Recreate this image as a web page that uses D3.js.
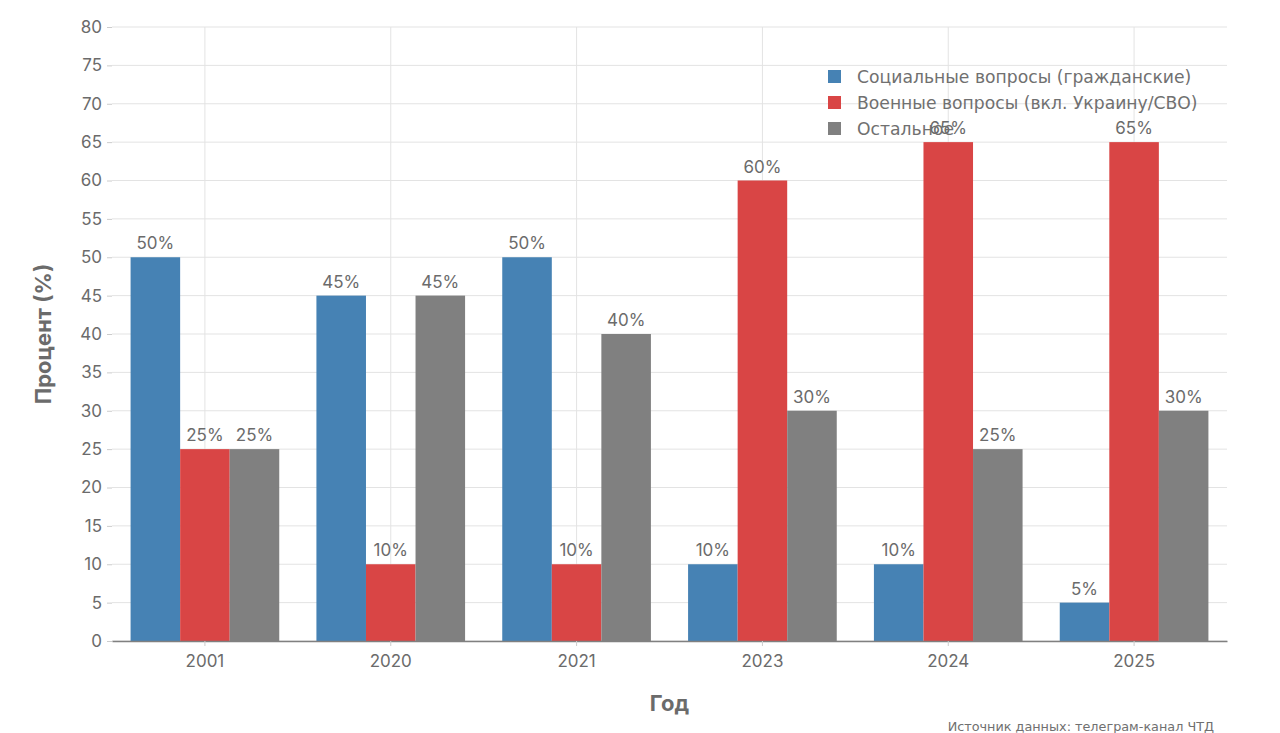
<!DOCTYPE html>
<html><head><meta charset="utf-8">
<script src="https://cdn.jsdelivr.net/npm/d3@7"></script>
<style>body{margin:0;background:#fff}svg{display:block}</style>
</head><body>
<svg id="c" width="1280" height="733"></svg>
<script>
const years = ["2001","2020","2021","2023","2024","2025"];
const seriesNames = ["Социальные вопросы (гражданские)","Военные вопросы (вкл. Украину/СВО)","Остальное"];
const social = [50,45,50,10,10,5];
const military = [25,10,10,60,65,65];
const other = [25,45,40,30,25,30];
const colors = ["#4682b4","#d94545","#808080"];
const yTicks = [0,5,10,15,20,25,30,35,40,45,50,55,60,65,70,75,80];

const series = [social, military, other];
const svg = d3.select("#c");
const font = "Inter, 'Liberation Sans', Arial, sans-serif";
const L=112, R=1227, T=27, B=641;
const x = d3.scaleBand().domain(years).range([L,R]).paddingInner(0.2).paddingOuter(0.1);
const x1 = d3.scaleBand().domain([0,1,2]).range([0,x.bandwidth()]);
const y = d3.scaleLinear().domain([0,80]).range([B,T]);

// grid
svg.append("g").selectAll("line").data(yTicks).join("line")
  .attr("x1",L).attr("x2",R).attr("y1",d=>y(d)).attr("y2",d=>y(d))
  .attr("stroke","#e3e3e3").attr("stroke-width",1);
svg.append("g").selectAll("line").data(years).join("line")
  .attr("x1",d=>x(d)+x.bandwidth()/2).attr("x2",d=>x(d)+x.bandwidth()/2)
  .attr("y1",T).attr("y2",B).attr("stroke","#e3e3e3").attr("stroke-width",1);

// bars
const g = svg.append("g");
years.forEach((yr,i)=>{
  series.forEach((s,j)=>{
    g.append("rect").attr("x",x(yr)+x1(j)).attr("width",x1.bandwidth())
      .attr("y",y(s[i])).attr("height",y(0)-y(s[i])).attr("fill",colors[j]);
    g.append("text").attr("x",x(yr)+x1(j)+x1.bandwidth()/2).attr("y",y(s[i])-8)
      .attr("text-anchor","middle").attr("font-family",font).attr("font-size",17)
      .attr("fill","#6b6b6b").text(s[i]+"%");
  });
});

// axes
const ya = svg.append("g").attr("transform",`translate(${L},0)`)
  .call(d3.axisLeft(y).tickValues(yTicks).tickSize(5).tickPadding(5));
ya.select(".domain").remove();
ya.selectAll("line").attr("stroke","#cccccc");
ya.selectAll("text").attr("font-family",font).attr("font-size",17).attr("fill","#6b6b6b");

const xa = svg.append("g").attr("transform",`translate(0,${B})`)
  .call(d3.axisBottom(x).tickSize(5).tickPadding(9).tickSizeOuter(0));
xa.select(".domain").attr("stroke","#808080").attr("stroke-width",1.5);
xa.selectAll("line").attr("stroke","#cccccc");
xa.selectAll("text").attr("font-family",font).attr("font-size",17).attr("fill","#6b6b6b");

// titles
svg.append("text").attr("x",(L+R)/2).attr("y",711).attr("text-anchor","middle")
  .attr("font-family",font).attr("font-size",22).attr("font-weight","bold").attr("fill","#6b6b6b").text("Год");
svg.append("text").attr("transform",`translate(51,${(T+B)/2}) rotate(-90)`).attr("text-anchor","middle")
  .attr("font-family",font).attr("font-size",22).attr("font-weight","bold").attr("fill","#6b6b6b").text("Процент (%)");

// legend
const lg = svg.append("g");
seriesNames.forEach((n,j)=>{
  lg.append("rect").attr("x",828).attr("y",70+j*26).attr("width",13).attr("height",13).attr("fill",colors[j]);
  lg.append("text").attr("x",857).attr("y",83+j*26).attr("font-family","'DejaVu Sans', sans-serif")
    .attr("font-size",17.2).attr("fill","#707070").text(n);
});

// source
svg.append("text").attr("x",1214).attr("y",731).attr("text-anchor","end")
  .attr("font-family","'DejaVu Sans', sans-serif").attr("font-size",12.8).attr("fill","#707070")
  .text("Источник данных: телеграм-канал ЧТД");
</script>
</body></html>
